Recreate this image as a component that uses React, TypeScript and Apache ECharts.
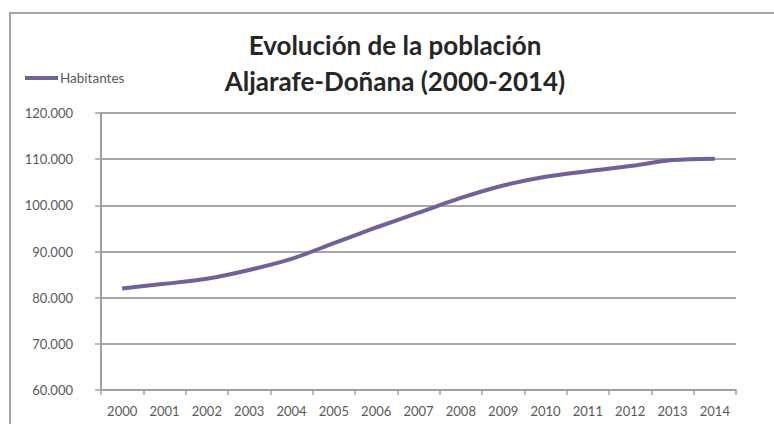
import React, { useEffect, useRef } from "react";
import * as echarts from "echarts";

const years: string[] = ["2000","2001","2002","2003","2004","2005","2006","2007","2008","2009","2010","2011","2012","2013","2014"];
const habitantes: number[] = [82000, 83000, 84100, 86000, 88400, 91800, 95200, 98400, 101600, 104300, 106200, 107400, 108500, 109800, 110100];
const seriesName = "Habitantes";
const titleText = "Evolución de la población\nAljarafe-Doñana (2000-2014)";
const yMin = 60000;
const yMax = 120000;
const yStep = 10000;

const fmt = (v: number) => String(v).replace(/\B(?=(\d{3})+(?!\d))/g, ".");

export default function App() {
  const ref = useRef<HTMLDivElement>(null);
  useEffect(() => {
    if (!ref.current) return;
    const chart = echarts.init(ref.current, undefined, { renderer: "svg" });
    chart.setOption({
      animation: false,
      backgroundColor: "#ffffff",
      title: {
        text: titleText,
        left: 395,
        top: 27,
        padding: 0,
        textAlign: "center",
        textStyle: {
          fontFamily: "Lato",
          fontSize: 26,
          fontWeight: "bold",
          color: "#262626",
          lineHeight: 36,
        },
      },
      legend: {
        data: [seriesName],
        left: 25,
        top: 71,
        padding: 0,
        icon: "rect",
        itemWidth: 33,
        itemHeight: 4,
        itemGap: 0,
        textStyle: { fontFamily: "Lato", fontSize: 13.5, color: "#595959", padding: [0, 0, 0, -3] },
      },
      graphic: [
        {
          type: "rect",
          shape: { x: 10, y: 13, width: 900, height: 600 },
          style: { fill: "none", stroke: "#a6a6a6", lineWidth: 2 },
          silent: true,
        },
      ],
      grid: { left: 101, right: 38, top: 113, bottom: 34, containLabel: false },
      xAxis: {
        type: "category",
        data: years,
        boundaryGap: true,
        axisLine: { lineStyle: { color: "#a0a0a0", width: 2 } },
        axisTick: { show: true, alignWithLabel: false, length: 5, lineStyle: { color: "#a0a0a0", width: 1.5 } },
        axisLabel: { fontFamily: "Lato", fontSize: 13, color: "#595959", margin: 14 },
        splitLine: { show: false },
      },
      yAxis: {
        type: "value",
        min: yMin,
        max: yMax,
        interval: yStep,
        axisLine: { show: true, lineStyle: { color: "#a0a0a0", width: 2 } },
        axisTick: { show: true, inside: false, length: 6, lineStyle: { color: "#a0a0a0", width: 1.5 } },
        axisLabel: { fontFamily: "Lato", fontSize: 13, color: "#595959", margin: 28, formatter: (v: number) => fmt(v) },
        splitLine: { show: true, lineStyle: { color: "#a6a6a6", width: 2 } },
      },
      series: [
        {
          name: seriesName,
          type: "line",
          data: habitantes,
          smooth: 0.3,
          showSymbol: false,
          symbol: "none",
          lineStyle: { color: "#72609a", width: 4 },
          itemStyle: { color: "#72609a" },
        },
      ],
    });
    return () => chart.dispose();
  }, []);
  return (
    <div
      ref={ref}
      style={{ position: "absolute", left: 0, top: 0, width: 774, height: 424 }}
    />
  );
}
